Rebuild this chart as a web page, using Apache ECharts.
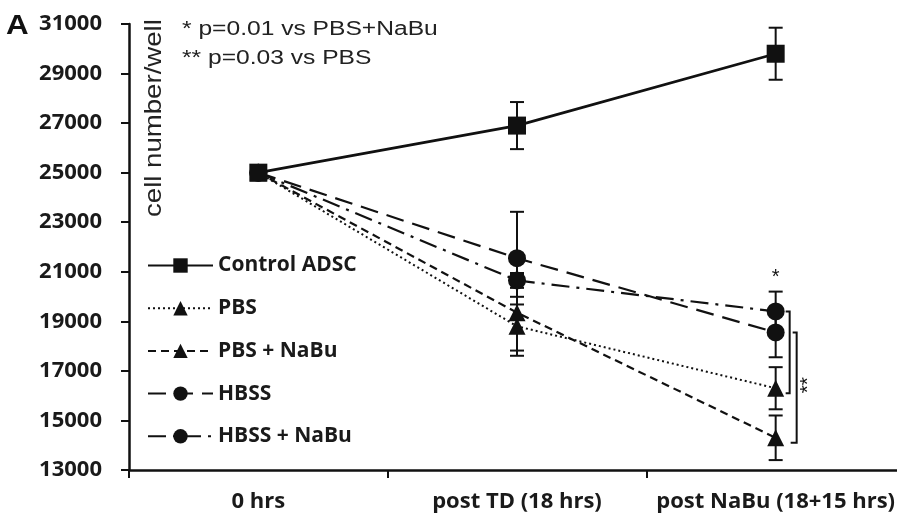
<!DOCTYPE html>
<html><head><meta charset="utf-8">
<script src="https://cdn.jsdelivr.net/npm/echarts@6/dist/echarts.min.js"></script>
<style>html,body{margin:0;padding:0;background:#fff;overflow:hidden;width:897px;height:518px}#c{width:905px;height:518px}</style>
</head><body><div id="c"></div>
<script>
const categories = ['0 hrs', 'post TD (18 hrs)', 'post NaBu (18+15 hrs)'];
const yTicks = { min: 13000, max: 31000, interval: 2000 };
const controlADSC = [25000, 26900, 29800];
const controlADSCErr = [0, 950, 1050];
const pbs = [25000, 18800, 16300];
const pbsErr = [0, 1190, 850];
const pbsNaBu = [25000, 19350, 14300];
const pbsNaBuErr = [0, 1530, 900];
const hbss = [25000, 21550, 18550];
const hbssErr = [0, 1870, 1000];
const hbssNaBu = [25000, 20650, 19400];
const hbssNaBuErr = [0, 300, 800];
const annotations = ['* p=0.01 vs PBS+NaBu', '** p=0.03 vs PBS'];
const yAxisTitle = 'cell number/well';
const panelLabel = 'A';

const INK = '#111';
const chart = echarts.init(document.getElementById('c'), null, { renderer: 'canvas' });

function errData(vals, errs) {
  return vals.map((v, i) => [i, v - errs[i], v + errs[i]]).filter((d, i) => errs[i] > 0);
}
function errSeries(vals, errs) {
  return {
    type: 'custom', silent: true, z: 1,
    data: errData(vals, errs),
    renderItem: function (params, api) {
      const lo = api.coord([api.value(0), api.value(1)]);
      const hi = api.coord([api.value(0), api.value(2)]);
      const w = 7;
      const st = { stroke: INK, lineWidth: 2 };
      return { type: 'group', children: [
        { type: 'line', shape: { x1: lo[0], y1: lo[1], x2: hi[0], y2: hi[1] }, style: st },
        { type: 'line', shape: { x1: lo[0] - w, y1: lo[1], x2: lo[0] + w, y2: lo[1] }, style: st },
        { type: 'line', shape: { x1: hi[0] - w, y1: hi[1], x2: hi[0] + w, y2: hi[1] }, style: st }
      ]};
    }
  };
}
function lineSeries(name, vals, symbol, size, dash, width, z) {
  return {
    name: name, type: 'line', data: vals, symbol: symbol, symbolSize: size, z: z,
    itemStyle: { color: INK },
    lineStyle: { color: INK, width: width, type: dash },
    emphasis: { disabled: true }
  };
}

const labelFont = { fontFamily: '"Open Sans"', fontWeight: 'bold', fontSize: 22, color: '#1a1a1a' };

chart.setOption({
  animation: false,
  backgroundColor: '#fff',
  grid: { left: 129, right: 0, top: 24, bottom: 48, containLabel: false },
  xAxis: {
    type: 'category', data: categories, boundaryGap: true,
    axisLine: { lineStyle: { color: INK, width: 2.5 } },
    axisTick: { show: true, length: 8, inside: false, lineStyle: { color: INK, width: 2 } },
    axisLabel: Object.assign({ margin: 21, interval: 0 }, labelFont),
    splitLine: { show: false }
  },
  yAxis: {
    type: 'value', min: yTicks.min, max: yTicks.max, interval: yTicks.interval,
    axisLine: { show: true, lineStyle: { color: INK, width: 2.5 } },
    axisTick: { show: true, length: 8, inside: false, lineStyle: { color: INK, width: 2 } },
    axisLabel: Object.assign({ margin: 27, formatter: function (v) { return String(v); } }, labelFont),
    splitLine: { show: false }
  },
  legend: {
    orient: 'vertical', left: 147, top: 255, padding: 0, itemWidth: 65, itemHeight: 18, itemGap: 21.7,
    selectedMode: false,
    textStyle: Object.assign({}, labelFont, { fontSize: 21, lineHeight: 18 }),
    data: ['Control ADSC', 'PBS', 'PBS + NaBu', 'HBSS', 'HBSS + NaBu']
  },
  series: [
    errSeries(controlADSC, controlADSCErr),
    errSeries(pbs, pbsErr),
    errSeries(pbsNaBu, pbsNaBuErr),
    errSeries(hbss, hbssErr),
    errSeries(hbssNaBu, hbssNaBuErr),
    lineSeries('PBS', pbs, 'triangle', 17, [2, 3], 2, 3),
    lineSeries('PBS + NaBu', pbsNaBu, 'triangle', 17, [8, 5], 2.2, 3),
    lineSeries('HBSS', hbss, 'circle', 18, [18, 9], 2.2, 3),
    lineSeries('HBSS + NaBu', hbssNaBu, 'circle', 18, [18, 7, 3, 7], 2.2, 3),
    lineSeries('Control ADSC', controlADSC, 'rect', 18, 'solid', 2.8, 5)
  ],
  tooltip: { show: false }
});

function px(i, v) { return chart.convertToPixel({ xAxisIndex: 0, yAxisIndex: 0 }, [i, v]); }
const last = categories.length - 1;
const b1t = px(last, hbssNaBu[last]), b1b = px(last, pbs[last]);
const b2t = px(last, hbss[last]), b2b = px(last, pbsNaBu[last]);
const starP = px(last, hbssNaBu[last] + hbssNaBuErr[last]);
const bx1 = b1t[0] + 14, bx2 = b1t[0] + 21;
const bst = { stroke: INK, lineWidth: 2, fill: null };
const annFont = '20px "Liberation Sans", Arial, sans-serif';

chart.setOption({
  graphic: [
    { type: 'text', x: 6, y: 26, scaleX: 1.12, style: { text: panelLabel, font: 'bold 28px "Liberation Sans", Arial, sans-serif', fill: '#111', verticalAlign: 'middle' } },
    { type: 'text', x: 182, y: 29, scaleX: 1.23, style: { text: annotations[0], font: annFont, fill: '#222', verticalAlign: 'middle' } },
    { type: 'text', x: 182, y: 58, scaleX: 1.23, style: { text: annotations[1], font: annFont, fill: '#222', verticalAlign: 'middle' } },
    { type: 'text', x: 154, y: 217, rotation: Math.PI / 2, scaleX: 1.15, style: { text: yAxisTitle, font: '24px "Liberation Sans", Arial, sans-serif', fill: '#222', align: 'left', verticalAlign: 'middle' } },
    { type: 'polyline', shape: { points: [[bx1 - 4, b1t[1]], [bx1, b1t[1]], [bx1, b1b[1] + 5], [bx1 - 4, b1b[1] + 5]] }, style: bst, z: 10 },
    { type: 'polyline', shape: { points: [[bx2 - 4, b2t[1]], [bx2, b2t[1]], [bx2, b2b[1] + 5], [bx2 - 6, b2b[1] + 5]] }, style: bst, z: 10 },
    { type: 'text', x: starP[0], y: starP[1] - 4, style: { text: '*', font: '20px "Liberation Sans", Arial, sans-serif', fill: '#111', align: 'center', verticalAlign: 'bottom' }, z: 10 },
    { type: 'text', x: bx2 + 12, y: (b2t[1] + b2b[1]) / 2, rotation: Math.PI / 2, style: { text: '**', font: '21px "Liberation Sans", Arial, sans-serif', fill: '#111', align: 'center', verticalAlign: 'middle' }, z: 10 }
  ]
});
</script>
</body></html>
